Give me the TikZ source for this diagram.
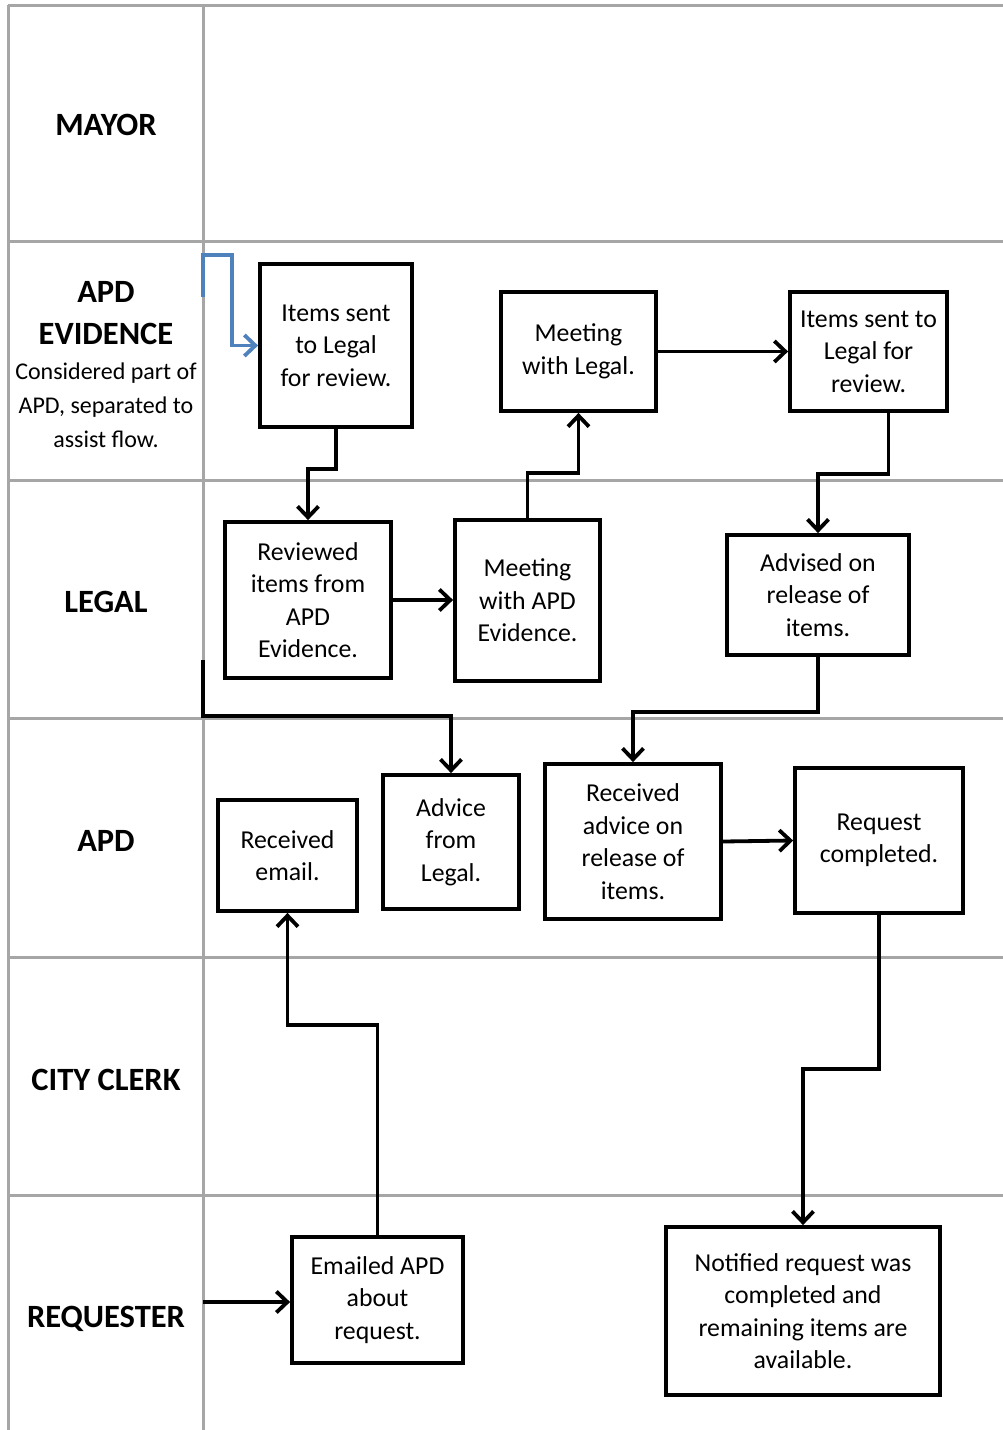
\documentclass[tikz,border=0pt]{standalone}
\usepackage{fontspec}
\setmainfont{Carlito}
\usetikzlibrary{arrows.meta,calc}
\definecolor{gridgray}{HTML}{A6A6A6}
\definecolor{flowblue}{HTML}{4F81BD}
\begin{document}
\begin{tikzpicture}[x=1pt,y=-1pt,
  boxnode/.style={draw=black,line width=3.8pt,align=center,inner sep=1pt,
    font=\fontsize{25.8}{32.5}\selectfont},
  lanelabel/.style={align=center,font=\bfseries\fontsize{32.5}{42}\selectfont},
  sublabel/.style={align=center,font=\fontsize{24}{34}\selectfont},
  gridline/.style={draw=gridgray,line width=3pt},
  arr/.style={draw=black,line width=3.8pt,-{Straight Barb[length=11pt,width=21pt]}},
  bluearr/.style={draw=flowblue,line width=3.8pt,-{Straight Barb[length=11pt,width=21pt]}}]
\useasboundingbox (0,0) rectangle (1003,1430);
% grid
\draw[gridline] (8,5) -- (8,1430);
\draw[gridline] (203,5) -- (203,1430);
\foreach \yy in {5,241,480,718,957,1195}{\draw[gridline] (8,\yy) -- (1003,\yy);}
% lane labels
\node[lanelabel] (lmayor) at (106,125) {MAYOR};
\node[lanelabel] (levid) at (106,313) {APD\\EVIDENCE};
\node[sublabel] (levidsub) at (106,405) {Considered part of\\APD, separated to\\assist flow.};
\node[lanelabel] (llegal) at (106,602) {LEGAL};
\node[lanelabel] (lapd) at (106,841) {APD};
\node[lanelabel] (lclerk) at (106,1080) {CITY CLERK};
\node[lanelabel] (lreq) at (106,1319) {REQUESTER};
% boxes
\node[boxnode,minimum width=152pt,minimum height=163pt] (b1) at (336,345.5) {Items sent\\to Legal\\for review.};
\node[boxnode,minimum width=155pt,minimum height=119pt] (b2) at (578.5,351.5) {Meeting\\with Legal.};
\node[boxnode,minimum width=157pt,minimum height=119pt] (b3) at (868.5,351.5) {Items sent to\\Legal for\\review.};
\node[boxnode,minimum width=166pt,minimum height=156pt] (b4) at (308,600) {Reviewed\\items from\\APD\\Evidence.};
\node[boxnode,minimum width=145pt,minimum height=161pt] (b5) at (527.5,600.5) {Meeting\\with APD\\Evidence.};
\node[boxnode,minimum width=182pt,minimum height=120pt] (b6) at (818,595) {Advised on\\release of\\items.};
\node[boxnode,minimum width=139pt,minimum height=111pt] (b7) at (287.5,855.5) {Received\\email.};
\node[boxnode,minimum width=136pt,minimum height=134pt] (b8) at (451,842) {Advice\\from\\Legal.};
\node[boxnode,minimum width=176pt,minimum height=155pt] (b9) at (633,841.5) {Received\\advice on\\release of\\items.};
\node[boxnode,minimum width=168pt,minimum height=145pt] (b10) at (879,840.5) {Request\\completed.};
\node[boxnode,minimum width=171pt,minimum height=126pt] (b11) at (377.5,1300) {Emailed APD\\about\\request.};
\node[boxnode,minimum width=274pt,minimum height=168pt] (b12) at (803,1311) {Notified request was\\completed and\\remaining items are\\available.};
% free ends
\coordinate (bstart) at (203,297);
\coordinate (bcorner) at (232,255);
\coordinate (lstart) at (203,660);
\coordinate (lbend) at (203,716);
\coordinate (rq) at (203,1302);
% connectors
\draw[bluearr] (bstart) -- (bstart |- bcorner) -- (bcorner) |- (b1.west);
\draw[arr] (b1.south) -- ++(0,40) -| (b4.north);
\draw[arr] (b4.east) -- (b4.east -| b5.west);
\draw[arr] (b5.north) -- ++(0,-45) -| (b2.south);
\draw[arr] (b2.east) -- (b2.east -| b3.west);
\draw[arr] ([xshift=20pt]b3.south) -- ++(0,61) -| (b6.north);
\draw[arr] (b6.south) -- ++(0,55) -| (b9.north);
\draw[arr] (lstart) -- (lbend) -| (b8.north);
\draw[arr] (b9.east) -- (b10.west);
\draw[arr] (b10.south) -- ++(0,154) -| (b12.north);
\draw[arr] (b11.north) -- ++(0,-210) -| (b7.south);
\draw[arr] (rq) -- (rq -| b11.west);
\end{tikzpicture}
\end{document}
